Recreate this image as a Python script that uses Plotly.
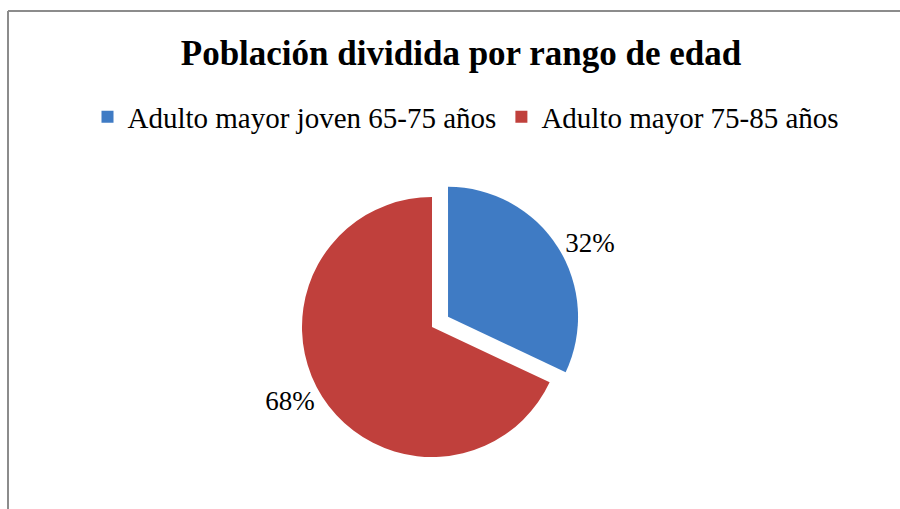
import plotly.graph_objects as go

categories = ["Adulto mayor joven 65-75 años", "Adulto mayor 75-85 años"]
values = [32, 68]
colors = ["#3f7bc4", "#c0403c"]
pulls = [0.146, 0]

W, H = 900, 509
SERIF = "Times New Roman, Liberation Serif, serif"

fig = go.Figure()
fig.add_trace(go.Pie(
    labels=categories,
    values=values,
    sort=False,
    direction="clockwise",
    rotation=0,
    pull=pulls,
    marker=dict(colors=colors, line=dict(width=0)),
    textinfo="percent",
    textposition="outside",
    outsidetextfont=dict(family=SERIF, size=27, color="#000000"),
    domain=dict(x=[283 / W, 581 / W], y=[1 - 476 / H, 1 - 178 / H]),
    showlegend=True,
    hoverinfo="label+percent",
))

# chart border (top and left edges, as in the reference crop)
yb = 1 - 11 / H
xb = 8 / W
fig.add_shape(type="line", xref="paper", yref="paper", x0=xb, y0=yb, x1=1.0, y1=yb,
              line=dict(color="#8c8c8c", width=2))
fig.add_shape(type="line", xref="paper", yref="paper", x0=xb, y0=yb, x1=xb, y1=0,
              line=dict(color="#8c8c8c", width=2))

fig.update_layout(
    width=W, height=H,
    margin=dict(l=0, r=0, t=0, b=0),
    paper_bgcolor="#ffffff",
    plot_bgcolor="#ffffff",
    title=dict(
        text="<b>Población dividida por rango de edad</b>",
        font=dict(family=SERIF, size=35, color="#000000"),
        x=461 / W, xanchor="center",
        y=1 - 53 / H, yanchor="middle", yref="container",
    ),
    legend=dict(
        orientation="h",
        x=466 / W, xanchor="center",
        y=1 - 117 / H, yanchor="middle",
        font=dict(family=SERIF, size=29, color="#000000"),
        itemwidth=30,
        tracegroupgap=0,
    ),
    font=dict(family=SERIF),
)

fig.write_html("out.html")
